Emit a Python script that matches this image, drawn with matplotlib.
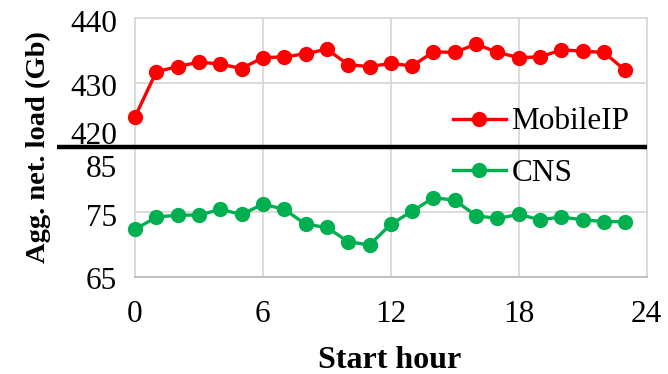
import matplotlib
matplotlib.use("Agg")
import matplotlib.pyplot as plt
from matplotlib.lines import Line2D
from matplotlib.transforms import ScaledTranslation

hours = list(range(24))
mobileip = [424.7, 431.7, 432.5, 433.2, 432.9, 432.2, 433.9, 434.0, 434.5, 435.2,
            432.8, 432.5, 433.0, 432.6, 434.8, 434.7, 436.0, 434.7, 433.9, 434.0,
            435.1, 434.9, 434.7, 431.9]
cns = [72.3, 74.2, 74.5, 74.5, 75.4, 74.6, 76.2, 75.4, 73.1, 72.6,
       70.4, 69.9, 73.1, 75.1, 77.2, 76.8, 74.4, 74.0, 74.6, 73.8,
       74.2, 73.8, 73.5, 73.5]
xticks = [0, 6, 12, 18, 24]
top_ticks = [420, 430, 440]
bot_ticks = [65, 75, 85]

plt.rcParams['font.family'] = ['Liberation Serif', 'DejaVu Serif']

W, H = 668, 374
fig = plt.figure(figsize=(W / 100, H / 100), dpi=100)
left = 135 / W
width = (646.7 - 135) / W
top_y0, top_y1 = 18.3, 147.1
bot_y0, bot_y1 = 147.1, 276.7
ax_bot = fig.add_axes([left, 1 - bot_y1 / H, width, (bot_y1 - bot_y0) / H])
ax_top = fig.add_axes([left, 1 - top_y1 / H, width, (top_y1 - top_y0) / H])
ax_top.set_zorder(2)
ax_top.patch.set_alpha(0)

grid_c = '#d9d9d9'
red = '#ff0000'
green = '#00b050'
tick_fs = 22.5
leg_fs = 22.5

for ax in (ax_top, ax_bot):
    ax.set_xlim(0, 24)
    ax.set_xticks(xticks)
    ax.grid(True, color=grid_c, linewidth=1.3, zorder=0)
    ax.set_axisbelow(True)
    for s in ax.spines.values():
        s.set_color(grid_c)
        s.set_linewidth(1.3)
    ax.tick_params(length=0, labelsize=tick_fs, pad=13)

ax_top.set_ylim(420, 440)
ax_top.set_yticks(top_ticks)
ax_top.tick_params(axis='x', labelbottom=False)
ax_top.spines['bottom'].set_visible(False)

ax_bot.set_ylim(65, 85)
ax_bot.set_yticks(bot_ticks)
ax_bot.spines['top'].set_visible(False)
ax_bot.spines['bottom'].set_color('#bfbfbf')
ax_bot.tick_params(axis='x', pad=17)

# vertical nudges of y tick labels (pixels, positive = down)
top_shift = [-14, 2, 3]
bot_shift = [1, 3, 19]
for lab, d in zip(ax_top.get_yticklabels(), top_shift):
    lab.set_transform(lab.get_transform() + ScaledTranslation(0, -d / 100, fig.dpi_scale_trans))
for lab, d in zip(ax_bot.get_yticklabels(), bot_shift):
    lab.set_transform(lab.get_transform() + ScaledTranslation(0, -d / 100, fig.dpi_scale_trans))

ax_top.plot(hours, mobileip, color=red, linewidth=2.4, marker='o', markersize=10,
            label='MobileIP', zorder=3, clip_on=False)
ax_bot.plot(hours, cns, color=green, linewidth=2.4, marker='o', markersize=10,
            label='CNS', zorder=3, clip_on=False)

# thick black break line
yline = 1 - top_y1 / H
fig.add_artist(Line2D([57 / W, 646.7 / W], [yline, yline], color='black',
                      linewidth=3.2, solid_capstyle='butt', zorder=10))

lx = (452.7 - 135) / (646.7 - 135)
ax_top.legend(loc='center left', bbox_to_anchor=(lx, 0.195), frameon=False,
              fontsize=leg_fs, borderpad=0, borderaxespad=0, handlelength=1.7,
              handletextpad=0.18)
ax_bot.legend(loc='center left', bbox_to_anchor=(lx, 0.798), frameon=False,
              fontsize=leg_fs, borderpad=0, borderaxespad=0, handlelength=1.7,
              handletextpad=0.18)

fig.text(38 / W, 1 - 147 / H, 'Agg. net. load (Gb)', rotation=90, ha='center',
         va='center', fontsize=20.5, fontweight='bold')
fig.text(390 / W, 1 - 360 / H, 'Start hour', ha='center', va='center',
         fontsize=23, fontweight='bold')

fig.savefig('out.png', dpi=100)
